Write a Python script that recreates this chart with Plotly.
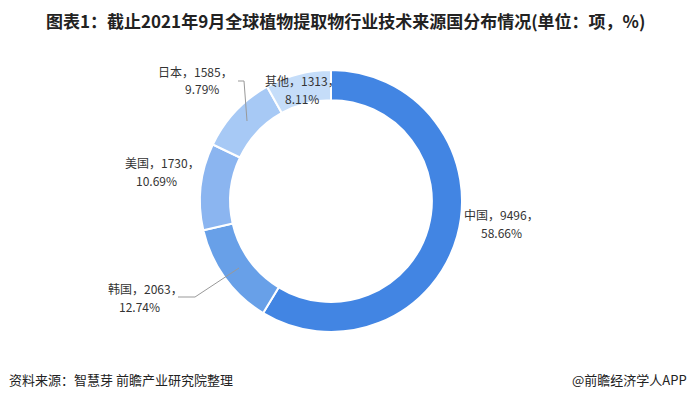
import plotly.graph_objects as go

# Data
countries = ["中国", "韩国", "美国", "日本", "其他"]
counts = [9496, 2063, 1730, 1585, 1313]
shares = [58.66, 12.74, 10.69, 9.79, 8.11]
colors = ["#4285E3", "#68A0E8", "#8BB5F0", "#A7C9F5", "#C5DDF9"]

title = "图表1：截止2021年9月全球植物提取物行业技术来源国分布情况(单位：项，%)"
source = "资料来源：智慧芽 前瞻产业研究院整理"
brand = "@前瞻经济学人APP"

W, H = 691, 399
FONT = "Noto Sans CJK SC"


def px(x, y):
    return x / W, 1 - y / H


cx, cy, r = 331, 201, 131
fig = go.Figure(go.Pie(
    labels=countries, values=counts, sort=False, direction="clockwise",
    rotation=0, hole=0.77,
    marker=dict(colors=colors, line=dict(color="white", width=2)),
    textinfo="none", hoverinfo="label+value+percent",
    domain=dict(x=[(cx - r) / W, (cx + r) / W], y=[(H - cy - r) / H, (H - cy + r) / H]),
    showlegend=False,
))

# label line positions (pixel centers) per country: (x1, y1, x2, y2)
label_pos = {
    "中国": (501, 214, 502, 232),
    "韩国": (145, 288, 139, 306),
    "美国": (162, 162, 156, 181),
    "日本": (195, 71, 202, 89),
    "其他": (302, 80, 302, 98),
}

ann = []
for c, n, s in zip(countries, counts, shares):
    x1, y1, x2, y2 = label_pos[c]
    ax, ay = px(x1, y1)
    ann.append(dict(x=ax, y=ay, xref="paper", yref="paper", text=f"{c}，{n}，",
                    showarrow=False, xanchor="center", yanchor="middle",
                    font=dict(family=FONT, size=12, color="#333333")))
    bx, by = px(x2, y2)
    ann.append(dict(x=bx, y=by, xref="paper", yref="paper", text=f"{s:.2f}%",
                    showarrow=False, xanchor="center", yanchor="middle",
                    font=dict(family=FONT, size=12, color="#333333")))

tx, ty = px(345, 20)
ann.append(dict(x=tx, y=ty, xref="paper", yref="paper", text=f"<b>{title}</b>",
                showarrow=False, xanchor="center", yanchor="middle",
                font=dict(family=FONT, size=17, color="#222222")))
sx, sy = px(7, 379)
ann.append(dict(x=sx, y=sy, xref="paper", yref="paper", text=source,
                showarrow=False, xanchor="left", yanchor="middle",
                font=dict(family=FONT, size=13, color="#222222")))
bx2, by2 = px(689, 379)
ann.append(dict(x=bx2, y=by2, xref="paper", yref="paper", text=brand,
                showarrow=False, xanchor="right", yanchor="middle",
                font=dict(family=FONT, size=13, color="#222222")))

# leader lines
def path(points):
    pts = [px(x, y) for x, y in points]
    d = "M " + " L ".join(f"{x},{y}" for x, y in pts)
    return d

shapes = [
    dict(type="path", xref="paper", yref="paper", path=path([(178, 297), (195, 297), (239, 268)]),
         line=dict(color="#999999", width=1)),
    dict(type="path", xref="paper", yref="paper", path=path([(238, 81), (244, 81), (247, 121)]),
         line=dict(color="#999999", width=1)),
]

fig.update_layout(
    width=W, height=H, margin=dict(l=0, r=0, t=0, b=0),
    paper_bgcolor="white", plot_bgcolor="white",
    annotations=ann, shapes=shapes,
    font=dict(family=FONT),
)

fig.write_html("out.html", config={"displayModeBar": False},
               post_script="document.body.style.margin='0';")
